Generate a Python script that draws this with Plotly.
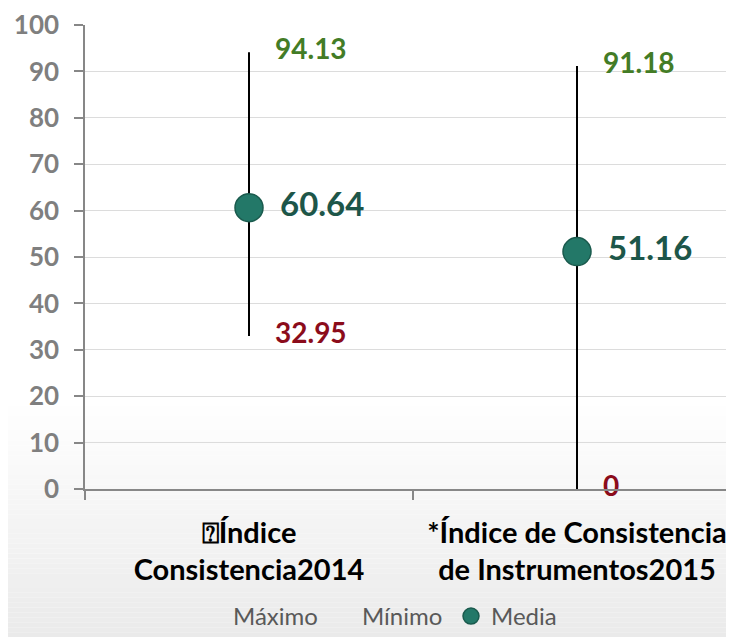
import plotly.graph_objects as go

categories = ["\u2370Índice<br>Consistencia2014", "*Índice de Consistencia<br>de Instrumentos2015"]
maximo = [94.13, 91.18]
minimo = [32.95, 0]
media = [60.64, 51.16]
y_ticks = [0, 10, 20, 30, 40, 50, 60, 70, 80, 90, 100]

FONT = "Lato"
OFF = 8  # page body margin
W, H = 734 - OFF, 639 - OFF
ML, MT = 85 - OFF, 19 - OFF
plot_h = 470
MB = H - MT - plot_h
base = H - MB  # y pixel of value 0 (figure coords)

fig = go.Figure()

# gradient background (bottom of figure)
n = 48
y_start, y_end = 400 - OFF, H
for i in range(n):
    p0 = y_start + (y_end - y_start) * i / n
    p1 = y_start + (y_end - y_start) * (i + 1) / n
    t = (i + 0.5) / n
    g = int(round(255 - (255 - 234) * t))
    fig.add_shape(type="rect", xref="paper", yref="paper",
                  x0=-0.2, x1=1.2,
                  y0=(base - p1) / plot_h, y1=(base - p0) / plot_h,
                  line=dict(width=0), fillcolor=f"rgb({g},{g},{g})", layer="below")

# high-low lines
lx, ly = [], []
for c, lo, hi in zip(categories, minimo, maximo):
    lx += [c, c, None]
    ly += [lo, hi, None]
fig.add_trace(go.Scatter(x=lx, y=ly, mode="lines", line=dict(color="black", width=2),
                         showlegend=False, hoverinfo="skip"))

clear = "rgba(0,0,0,0)"
fig.add_trace(go.Scatter(
    x=categories, y=maximo, name="Máximo", mode="markers+text", cliponaxis=False,
    marker=dict(size=40, color=clear, line=dict(width=0)),
    text=[f"<b>{v:g}</b>" for v in maximo], textposition="middle right",
    textfont=dict(family=FONT, size=28, color="#437c26"),
))
fig.add_trace(go.Scatter(
    x=categories, y=minimo, name="Mínimo", mode="markers+text", cliponaxis=False,
    marker=dict(size=40, color=clear, line=dict(width=0)),
    text=[f"<b>{v:g}</b>" for v in minimo], textposition="middle right",
    textfont=dict(family=FONT, size=28, color="#8b0c1b"),
))
fig.add_trace(go.Scatter(
    x=categories, y=media, name="Media", mode="markers", cliponaxis=False,
    marker=dict(size=28, color="#237868", line=dict(color="#1a5a4d", width=1.5)),
))
fig.add_trace(go.Scatter(
    x=categories, y=media, mode="markers+text", showlegend=False, hoverinfo="skip",
    cliponaxis=False,
    marker=dict(size=48, color=clear, line=dict(width=0)),
    text=[f"<b>{v:g}</b>" for v in media], textposition="middle right",
    textfont=dict(family=FONT, size=33, color="#1d5649"),
))

fig.update_layout(
    width=W, height=H,
    margin=dict(l=ML, r=0, t=MT, b=MB),
    paper_bgcolor="white", plot_bgcolor="rgba(0,0,0,0)",
    font=dict(family=FONT),
    showlegend=True,
    legend=dict(orientation="h", xref="container", yref="container",
                x=(193 - OFF) / W, xanchor="left", y=-0.014, yanchor="bottom",
                font=dict(family=FONT, size=24, color="#595959"),
                bgcolor="rgba(0,0,0,0)", itemwidth=30, entrywidth=84),
)
fig.update_xaxes(
    type="category", range=[-0.5, 1.5 - 7 / 328],
    showline=True, linecolor="#878787", linewidth=1.5,
    ticks="outside", ticklen=9, tickcolor="#878787", tickwidth=1.5,
    tickson="boundaries", showgrid=False, ticklabelstandoff=17,
    tickfont=dict(family=FONT, size=29, color="black", weight="bold"),
)
fig.update_yaxes(
    range=[0, 100], tickvals=y_ticks,
    showline=True, linecolor="#878787", linewidth=1.5,
    ticks="outside", ticklen=9, tickcolor="#878787", tickwidth=1.5,
    showgrid=True, gridcolor="#dcdcdc", gridwidth=1.2, zeroline=False,
    ticklabelstandoff=10, ticklabeloverflow="allow",
    tickfont=dict(family=FONT, size=26, color="#7f7f7f", weight="bold"),
)

fig.write_html("out.html")
